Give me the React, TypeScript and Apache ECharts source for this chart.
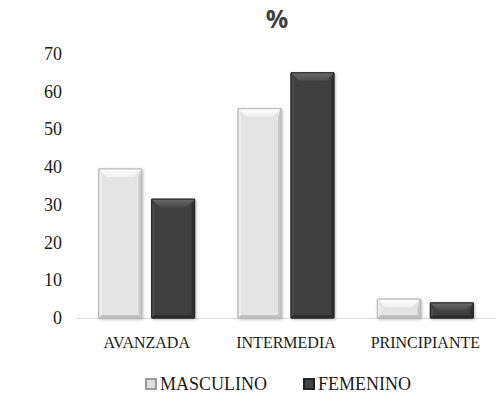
import React, { useEffect, useRef } from "react";
import * as echarts from "echarts";

const categories = ["AVANZADA", "INTERMEDIA", "PRINCIPIANTE"];
const masculino = [39.5, 55.5, 5];
const femenino = [31.5, 65, 4];
const yTicks = { min: 0, max: 70, interval: 10 };

type Palette = {
  main: string;
  topA: string;
  topB: string;
  left: string;
  right: string;
  bottom: string;
  outline: string;
};

const lightPalette: Palette = {
  main: "#e4e4e4",
  topA: "#ffffff",
  topB: "#f0f0f0",
  left: "#eeeeee",
  right: "#c8c8c8",
  bottom: "#c2c2c2",
  outline: "#b8b8b8",
};

const darkPalette: Palette = {
  main: "#404040",
  topA: "#6a6a6a",
  topB: "#4a4a4a",
  left: "#4a4a4a",
  right: "#303030",
  bottom: "#2c2c2c",
  outline: "#262626",
};

// Bevelled bar drawn at the category position, shifted left or right within the band.
function bevelBar(side: number, pal: Palette) {
  return (params: any, api: any) => {
    const cat = api.value(0);
    const val = api.value(1);
    const base = api.coord([cat, 0]);
    const top = api.coord([cat, val]);
    const band = api.size([1, 0])[0];
    const w = band * 0.308;
    const gap = band * 0.072;
    const cx = base[0] + (side * (w + gap)) / 2;
    const x0 = cx - w / 2;
    const x1 = cx + w / 2;
    const y0 = top[1];
    const y1 = base[1];
    const h = y1 - y0;
    const bt = Math.min(8, h / 2);
    const bs = Math.min(3, h / 4);
    return {
      type: "group",
      children: [
        {
          type: "rect",
          shape: { x: x0, y: y0, width: w, height: h },
          style: {
            fill: pal.main,
            stroke: pal.outline,
            lineWidth: 1,
            shadowBlur: 3,
            shadowColor: "rgba(0,0,0,0.3)",
            shadowOffsetX: 1,
            shadowOffsetY: 1,
          },
        },
        {
          type: "polygon",
          shape: { points: [[x0, y0], [x0 + bs, y0 + bt], [x0 + bs, y1 - bs], [x0, y1]] },
          style: { fill: pal.left },
        },
        {
          type: "polygon",
          shape: { points: [[x1, y0], [x1, y1], [x1 - bs, y1 - bs], [x1 - bs, y0 + bt]] },
          style: { fill: pal.right },
        },
        {
          type: "polygon",
          shape: { points: [[x0, y1], [x0 + bs, y1 - bs], [x1 - bs, y1 - bs], [x1, y1]] },
          style: { fill: pal.bottom },
        },
        {
          type: "polygon",
          shape: { points: [[x0, y0], [x1, y0], [x1 - bt, y0 + bt], [x0 + bt, y0 + bt]] },
          style: {
            fill: new echarts.graphic.LinearGradient(0, 0, 0, 1, [
              { offset: 0, color: pal.topA },
              { offset: 1, color: pal.topB },
            ]),
          },
        },
        {
          type: "rect",
          shape: { x: x0, y: y0, width: w, height: h },
          style: { fill: "none", stroke: pal.outline, lineWidth: 1 },
        },
      ],
    };
  };
}

export default function App() {
  const ref = useRef<HTMLDivElement>(null);

  useEffect(() => {
    if (!ref.current) return;
    const chart = echarts.init(ref.current, null, { renderer: "svg" });
    const serif = "'Liberation Serif', 'Times New Roman', serif";
    chart.setOption({
      animation: false,
      backgroundColor: "#ffffff",
      title: {
        text: "%",
        left: 277,
        top: 5,
        padding: 0,
        textAlign: "center",
        textStyle: {
          fontFamily: "'Open Sans', 'Liberation Sans', sans-serif",
          fontWeight: "bold",
          fontSize: 25,
          lineHeight: 25,
          color: "#404040",
        },
      },
      legend: {
        left: 140,
        top: 370,
        icon: "rect",
        itemWidth: 10,
        itemHeight: 10,
        itemGap: 36,
        textStyle: { fontFamily: serif, fontSize: 18, color: "#1a1a1a", padding: [0, 0, 0, -1] },
        data: ["MASCULINO", "FEMENINO"],
      },
      grid: { left: 77, right: 7, top: 54, bottom: 76, containLabel: false },
      xAxis: {
        type: "category",
        data: categories,
        axisTick: { show: false },
        axisLine: { lineStyle: { color: "#d9d9d9", width: 1 } },
        axisLabel: { interval: 0, fontFamily: serif, fontSize: 16, color: "#1a1a1a", margin: 16 },
      },
      yAxis: {
        type: "value",
        min: yTicks.min,
        max: yTicks.max,
        interval: yTicks.interval,
        axisLine: { show: false },
        axisTick: { show: false },
        splitLine: { show: false },
        axisLabel: { fontFamily: serif, fontSize: 18, color: "#1a1a1a", margin: 15 },
      },
      series: [
        {
          name: "MASCULINO",
          type: "custom",
          renderItem: bevelBar(-1, lightPalette),
          itemStyle: { color: "#dedede", borderColor: "#9a9a9a", borderWidth: 1 },
          encode: { x: 0, y: 1 },
          data: masculino.map((v, i) => [i, v]),
        },
        {
          name: "FEMENINO",
          type: "custom",
          renderItem: bevelBar(1, darkPalette),
          itemStyle: { color: "#444444", borderColor: "#222222", borderWidth: 1 },
          encode: { x: 0, y: 1 },
          data: femenino.map((v, i) => [i, v]),
        },
      ],
    });
    return () => chart.dispose();
  }, []);

  return (
    <div
      ref={ref}
      style={{ position: "fixed", left: 0, top: 0, width: 502, height: 394 }}
    />
  );
}
